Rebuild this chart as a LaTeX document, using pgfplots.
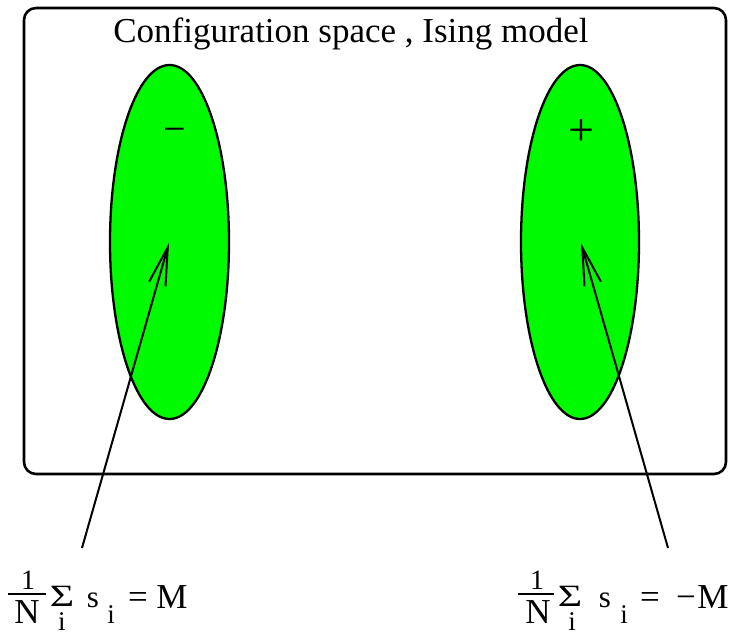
\documentclass[border=0pt]{standalone}
\usepackage{pgfplots}
\pgfplotsset{compat=1.18}
\usepackage{fontspec}
\setmainfont{Liberation Serif}
\usetikzlibrary{arrows.meta}
\definecolor{regiongreen}{RGB}{0,250,0}

\begin{document}
\begin{tikzpicture}
\begin{axis}[
    scale only axis,
    width=742pt, height=632pt,
    xmin=0, xmax=742, ymin=0, ymax=632,
    y dir=reverse,
    axis lines=none,
    clip=false,
]
% keep the page the size of the reference
\path (axis cs:0,0) rectangle (axis cs:742,632);

% configuration space box
\draw[line width=2.6pt, rounded corners=12pt] (axis cs:24,8) rectangle (axis cs:726,474);
\node[anchor=base, font=\fontsize{35}{35}\selectfont] at (axis cs:351,42) {Configuration space , Ising model};

% the two ordered regions
\draw[line width=2.3pt, fill=regiongreen] (axis cs:169.5,242) ellipse [x radius=59.5, y radius=177];
\draw[line width=2.3pt, fill=regiongreen] (axis cs:580,242) ellipse [x radius=59, y radius=177];
\node[font=\fontsize{40}{40}\selectfont] at (axis cs:175,135) {\textminus};
\node[font=\fontsize{46}{46}\selectfont] at (axis cs:581,133) {+};

% arrows from the labels into the regions
\addplot[line width=2pt, -{Straight Barb[length=38pt, width=17pt, line width=2pt]}]
    coordinates {(82,548) (169,243)};
\addplot[line width=2pt, -{Straight Barb[length=38pt, width=17pt, line width=2pt]}]
    coordinates {(668,548) (581,243)};

% left label  1/N sum_i s_i = M
\begin{scope}[every node/.style={font=\fontsize{35}{35}\selectfont, inner sep=0pt}]
\node[anchor=base, font=\fontsize{28}{28}\selectfont] at (axis cs:28,589) {1};
\draw[line width=2pt] (axis cs:8,594) -- (axis cs:46,594);
\node[anchor=base] at (axis cs:27,623) {N};
\node[anchor=base, font=\fontsize{31}{31}\selectfont] at (axis cs:62,606) {\scalebox{1.35}[1]{Σ}};
\node[anchor=base, font=\fontsize{27}{27}\selectfont] at (axis cs:62,630) {i};
\node[anchor=base, font=\fontsize{31}{31}\selectfont] at (axis cs:93,607) {s};
\node[anchor=base, font=\fontsize{27}{27}\selectfont] at (axis cs:111,623) {i};
\node[anchor=base] at (axis cs:138,608) {=};
\node[anchor=base] at (axis cs:172,608) {M};

% right label  1/N sum_i s_i = -M
\node[anchor=base, font=\fontsize{28}{28}\selectfont] at (axis cs:537,589) {1};
\draw[line width=2pt] (axis cs:518,594) -- (axis cs:554,594);
\node[anchor=base] at (axis cs:538,623) {N};
\node[anchor=base, font=\fontsize{31}{31}\selectfont] at (axis cs:570,606) {\scalebox{1.35}[1]{Σ}};
\node[anchor=base, font=\fontsize{27}{27}\selectfont] at (axis cs:572,630) {i};
\node[anchor=base, font=\fontsize{31}{31}\selectfont] at (axis cs:605,607) {s};
\node[anchor=base, font=\fontsize{27}{27}\selectfont] at (axis cs:624,623) {i};
\node[anchor=base] at (axis cs:650,608) {=};
\node[anchor=base] at (axis cs:686,608) {\textminus};
\node[anchor=base] at (axis cs:713,608) {M};
\end{scope}
\end{axis}
\end{tikzpicture}
\end{document}
